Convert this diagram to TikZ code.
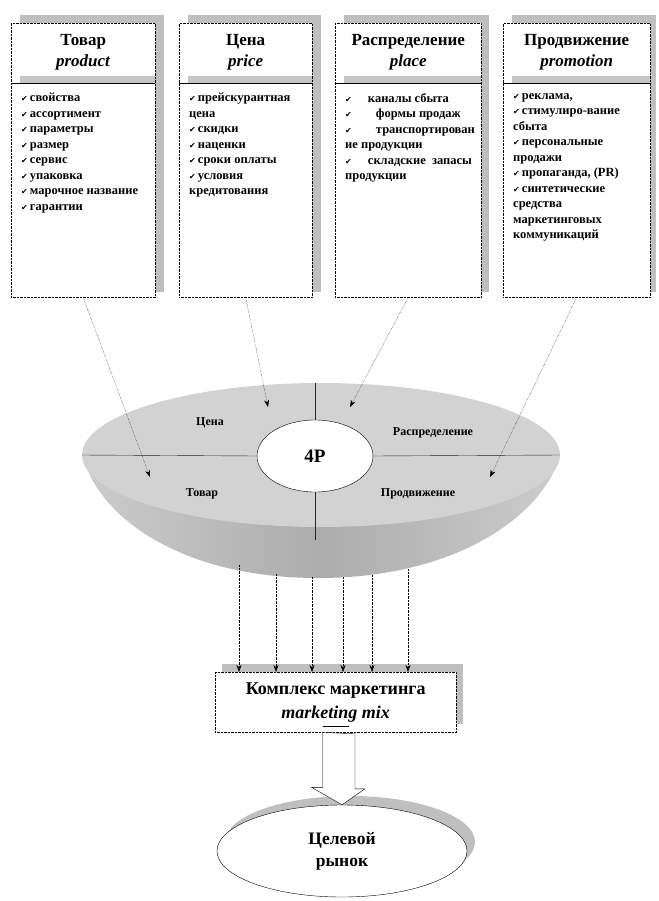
\documentclass[tikz,border=0pt]{standalone}
\usepackage{fontspec}
\setmainfont{Liberation Serif}
\newfontfamily\symfont{DejaVu Sans}
\usetikzlibrary{arrows.meta,positioning,shapes.geometric}
\newcommand{\chk}{{\symfont\fontsize{8}{8}\selectfont ✔}\,}
\begin{document}
\begin{tikzpicture}[x=1pt,y=-1pt,
  shd/.style={fill=gray!50,draw=none},
  box/.style={draw,densely dotted,fill=white,anchor=north west,inner sep=0pt,minimum height=274pt,minimum width=#1},
  ttl/.style={align=center,font=\fontsize{17}{21}\selectfont\bfseries},
  lst/.style={anchor=north west,align=left,inner sep=0pt,font=\fontsize{12.5}{15.5}\selectfont\bfseries},
  lbl/.style={font=\fontsize{12}{14}\selectfont\bfseries},
  arr/.style={densely dotted,-{Stealth[length=7pt,width=5pt]}}]
\useasboundingbox (0,0) rectangle (658,901);
% four boxes
\fill[shd] (20,15) rectangle (164,292);
\fill[shd] (188,15) rectangle (321,292);
\fill[shd] (344,15) rectangle (489,292);
\fill[shd] (512,15) rectangle (656,292);
\node[box=144pt] (b1) at (11,23) {};
\node[box=133pt] (b2) at (179,23) {};
\node[box=146pt] (b3) at (335,23) {};
\node[box=147pt] (b4) at (503,23) {};
\foreach \b in {b1,b2,b3,b4}{
  \fill[gray!45] ([xshift=9pt,yshift=-53pt]\b.north west) rectangle ([yshift=-60pt]\b.north east);
  \draw ([yshift=-60pt]\b.north west) -- ([yshift=-60pt]\b.north east);
}
\node[ttl] at ([yshift=-29pt]b1.north) {Товар\\\textit{product}};
\node[ttl] at ([yshift=-29pt]b2.north) {Цена\\\textit{price}};
\node[ttl] at ([yshift=-29pt]b3.north) {Распределение\\\textit{place}};
\node[ttl] at ([yshift=-29pt]b4.north) {Продвижение\\\textit{promotion}};
\node[lst] (l1) at ([xshift=10pt,yshift=-70pt]b1.north west)
  {\chk свойства\\\chk ассортимент\\\chk параметры\\\chk размер\\\chk сервис\\\chk упаковка\\\chk марочное название\\\chk гарантии};
\node[lst] (l2) at ([xshift=10pt,yshift=-70pt]b2.north west)
  {\chk прейскурантная\\цена\\\chk скидки\\\chk наценки\\\chk сроки оплаты\\\chk условия\\кредитования};
\node[lst] (l3) at ([xshift=10pt,yshift=-70pt]b3.north west)
  {\chk\hspace{14pt}каналы сбыта\\\chk\hspace{22pt}формы продаж\\\chk\hspace{22pt}транспортирован\\ие продукции\\\chk\hspace{14pt}складские\ \ запасы\\продукции};
\node[lst] (l4) at ([xshift=10pt,yshift=-70pt]b4.north west)
  {\chk реклама,\\\chk стимулиро-вание\\сбыта\\\chk персональные\\продажи\\\chk пропаганда, (PR)\\\chk синтетические\\средства\\маркетинговых\\коммуникаций};
% bowl and disc
\shade[left color=gray!40,right color=gray!40,middle color=gray!65,shading angle=90]
  (83,455) .. controls (95,512) and (175,578) .. (318,578) .. controls (461,578) and (545,512) .. (560,455) -- cycle;
\node[ellipse,fill=gray!35,minimum width=478pt,minimum height=144pt,inner sep=0pt] (disc) at (321,455) {};
\node[ellipse,draw,fill=white,minimum width=116pt,minimum height=72pt,inner sep=0pt,font=\fontsize{19}{20}\selectfont\bfseries] (in) at (315,456) {4P};
\draw[gray!30!black] (disc.west) -- (in.west);
\draw[gray!30!black] (in.east) -- (disc.east);
\draw[gray!30!black] (in.north) -- (in.north |- disc.north);
\draw[gray!30!black] (in.south) -- ++(0,48);
\node[lbl] at (210,423) {Цена};
\node[lbl] at (433,433) {Распределение};
\node[lbl] at (202,494) {Товар};
\node[lbl] at (418,494) {Продвижение};
\coordinate (p1) at (150,477);
\coordinate (p2) at (268,407);
\coordinate (p3) at (350,407);
\coordinate (p4) at (490,477);
\draw[arr] (b1.south) -- (p1);
\draw[arr] (b2.south) -- (p2);
\draw[arr] (b3.south) -- (p3);
\draw[arr] (b4.south) -- (p4);
% marketing mix
\fill[shd] (222,664) rectangle (463,724);
\node[draw,densely dotted,fill=white,anchor=north west,minimum width=241pt,minimum height=60pt,inner sep=0pt] (mix) at (215,672) {};
\node[align=center,font=\fontsize{18}{24}\selectfont\bfseries] at (mix.center) {Комплекс маркетинга\\\textit{marketing mix}};
\coordinate (c1) at (239,565);
\coordinate (c2) at (276,574);
\coordinate (c3) at (312,577);
\coordinate (c4) at (343,577);
\coordinate (c5) at (372,575);
\coordinate (c6) at (408,569);
\foreach \c in {c1,c2,c3,c4,c5,c6}
  \draw[arr] (\c) -- (\c |- mix.north);
% target market
\node[ellipse,shd,minimum width=250pt,minimum height=92pt] at (350,842) {};
\node[ellipse,draw,fill=white,minimum width=250pt,minimum height=92pt,inner sep=0pt,align=center,font=\fontsize{17.5}{22}\selectfont\bfseries] (mkt) at (342,851) {Целевой\\рынок};
\draw[fill=white] ([xshift=-13pt]mix.south) -- ++(0,55) -- ++(-11,0) -- (mkt.north) -- ++(23,-16) -- ++(-10,0) -- ++(0,-55) -- cycle;
\draw ([xshift=-13pt,yshift=6pt]mix.south) -- ++(26,0);
\end{tikzpicture}
\end{document}
